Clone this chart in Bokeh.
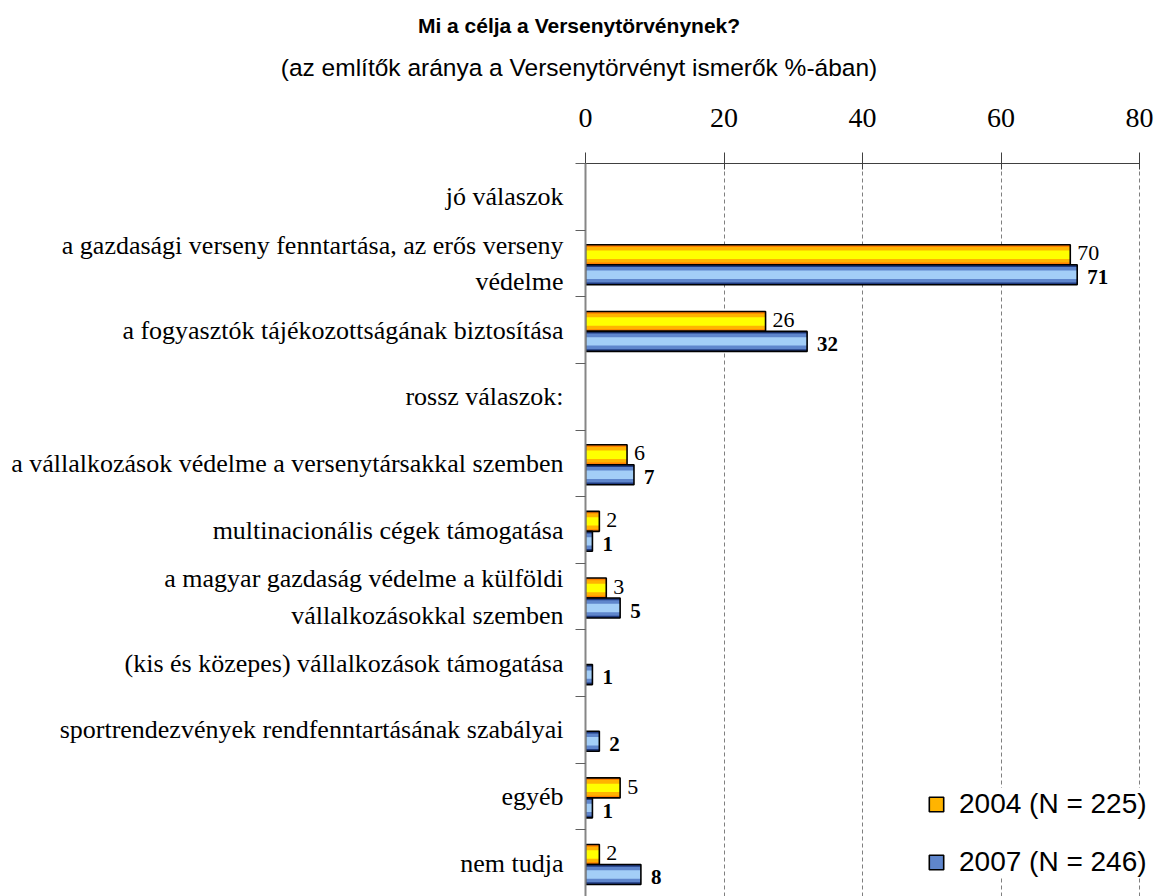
from bokeh.plotting import figure
from bokeh.models import (ColumnDataSource, Range1d, FixedTicker, Legend, LegendItem, Div)
from bokeh.layouts import column
from bokeh.transform import dodge
from bokeh.core.properties import value
from bokeh.embed import file_html
from bokeh.resources import INLINE

# ---------------- data ----------------
title_text = "Mi a célja a Versenytörvénynek?"
subtitle_text = "(az említők aránya a Versenytörvényt ismerők %-ában)"

categories = [
    "jó válaszok",
    "a gazdasági verseny fenntartása, az erős verseny\nvédelme",
    "a fogyasztók tájékozottságának biztosítása",
    "rossz válaszok:",
    "a vállalkozások védelme a versenytársakkal szemben",
    "multinacionális cégek támogatása",
    "a magyar gazdaság védelme a külföldi\nvállalkozásokkal szemben",
    "(kis és közepes) vállalkozások támogatása",
    "sportrendezvények rendfenntartásának szabályai",
    "egyéb",
    "nem tudja",
]
v2004 = [None, 70, 26, None, 6, 2, 3, None, None, 5, 2]
v2007 = [None, 71, 32, None, 7, 1, 5, 1, 2, 1, 8]
series_labels = ["2004 (N = 225)", "2007 (N = 246)"]
x_ticks = [0, 20, 40, 60, 80]

# ---------------- build ----------------
n = len(categories)
ypos = [n - i - 0.5 for i in range(n)]


def num(vals):
    return [float("nan") if v is None else v for v in vals]


def txt(vals):
    return ["" if v is None else str(v) for v in vals]


src = ColumnDataSource(dict(
    y=ypos, v04=num(v2004), v07=num(v2007), t04=txt(v2004), t07=txt(v2007)
))

# axis spans 0..80; the frame runs a little further right so the legend fits
p = figure(width=1158, height=806,
           x_range=Range1d(0, 82.74), y_range=Range1d(0, n),
           x_axis_location="above",
           output_backend="svg", toolbar_location=None,
           min_border_left=585, min_border_right=0,
           min_border_top=73, min_border_bottom=0)
p.outline_line_color = None
p.background_fill_color = "white"

# top x axis
xa = p.xaxis[0]
xa.ticker = FixedTicker(ticks=x_ticks)
xa.bounds = (x_ticks[0], x_ticks[-1])
xa.major_label_text_font = "Liberation Serif"
xa.major_label_text_font_size = "28px"
xa.major_label_text_color = "black"
xa.axis_line_color = "#404040"
xa.major_tick_line_color = "#404040"
xa.major_tick_out = 11
xa.major_tick_in = 6
xa.minor_tick_line_color = None
xa.major_label_standoff = 26

# left y axis
ya = p.yaxis[0]
ya.ticker = FixedTicker(ticks=ypos, minor_ticks=list(range(1, n + 1)))
ya.major_label_overrides = {y: c for y, c in zip(ypos, categories)}
ya.major_tick_line_color = None
ya.major_tick_out = 0
ya.major_tick_in = 0
ya.minor_tick_out = 10
ya.minor_tick_in = 0
ya.minor_tick_line_color = "#606060"
ya.axis_line_color = "#868686"
ya.axis_line_width = 2
ya.major_label_text_font = "Liberation Serif"
ya.major_label_text_font_size = "26px"
ya.major_label_text_color = "black"
ya.major_label_text_align = "center"
ya.major_label_standoff = 12
ya.major_label_text_line_height = 1.27

p.xgrid.ticker = FixedTicker(ticks=x_ticks[1:])
p.xgrid.grid_line_color = "#7f7f7f"
p.xgrid.grid_line_dash = "4 3"
p.ygrid.visible = False

h = 0.30
styles = [
    ("v04", 0.13, ["#FF8000", "#FFB400", "#FFFF00"]),
    ("v07", -0.17, ["#1F3A80", "#5F86CC", "#A3CEF7"]),
]
legend_renderers = []
for field, off, cols in styles:
    r0 = p.hbar(y=dodge("y", off), left=0, right=field, height=h,
                fill_color=cols[0], line_color=None, source=src)
    r1 = p.hbar(y=dodge("y", off), left=0, right=field, height=h * 0.78,
                fill_color=cols[1], line_color=None, source=src)
    r2 = p.hbar(y=dodge("y", off), left=0, right=field, height=h * 0.42,
                fill_color=cols[2], line_color=None, source=src)
    r3 = p.hbar(y=dodge("y", off), left=0, right=field, height=h,
                fill_color=None, line_color="black", line_width=1.6, source=src)
    legend_renderers.append([r1, r3])

p.text(x="v04", y=dodge("y", 0.15), text="t04", x_offset=7,
       text_baseline="middle", text_align="left",
       text_font=value("Liberation Serif"), text_font_size="22px",
       text_color="black", source=src)
p.text(x="v07", y=dodge("y", -0.21), text="t07", x_offset=10,
       text_baseline="middle", text_align="left",
       text_font=value("Liberation Serif"), text_font_style="bold",
       text_font_size="21px", text_color="black", source=src)

legend = Legend(items=[LegendItem(label=series_labels[i], renderers=legend_renderers[i])
                       for i in range(2)],
                location=(342, 18), orientation="vertical",
                glyph_width=18, glyph_height=18, label_height=30,
                label_standoff=14, spacing=26, padding=10, margin=0,
                border_line_color=None, background_fill_color="white",
                background_fill_alpha=1.0,
                label_text_font="Liberation Sans", label_text_font_size="28px",
                label_text_color="black")
p.add_layout(legend)

font = "'Liberation Sans', Arial, sans-serif"
html = (
    f'<div style="width:1158px;text-align:center;color:black;">'
    f'<div style="font-family:{font};font-weight:bold;font-size:21px;line-height:24px;padding-top:14px;">{title_text}</div>'
    f'<div style="font-family:{font};font-size:24.5px;line-height:28px;margin-top:16px;">{subtitle_text}</div>'
    f'</div>'
)
header = Div(text=html, width=1158, height=90, margin=(0, 0, 0, 0))

layout = column(header, p, spacing=0)

open("out.html", "w").write(file_html(layout, INLINE))
